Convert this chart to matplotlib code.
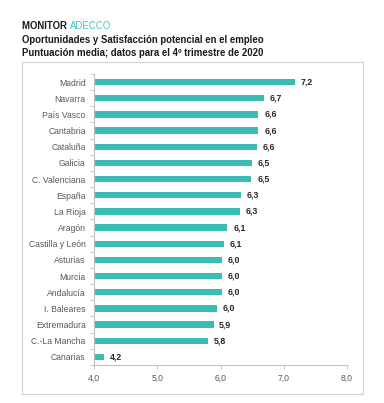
import matplotlib.pyplot as plt
from matplotlib.patches import Rectangle

plt.rcParams['font.family'] = ['Liberation Sans', 'DejaVu Sans']

# Datos: puntuación media por comunidad (4º trimestre 2020)
regiones = ['Madrid', 'Navarra', 'País Vasco', 'Cantabria', 'Cataluña', 'Galicia',
            'C. Valenciana', 'España', 'La Rioja', 'Aragón', 'Castilla y León',
            'Asturias', 'Murcia', 'Andalucía', 'I. Baleares', 'Extremadura',
            'C.-La Mancha', 'Canarias']
valores = [7.17, 6.69, 6.60, 6.60, 6.57, 6.50, 6.49, 6.33, 6.31, 6.11, 6.05,
           6.03, 6.03, 6.02, 5.94, 5.89, 5.81, 4.16]
etiquetas = ['7,2', '6,7', '6,6', '6,6', '6,6', '6,5', '6,5', '6,3', '6,3', '6,1',
             '6,1', '6,0', '6,0', '6,0', '6,0', '5,9', '5,8', '4,2']
ticks_x = [4, 5, 6, 7, 8]

teal = '#37bdb1'
gris = '#bfbfbf'

fig = plt.figure(figsize=(3.84, 4.03), dpi=100)

# Marco alrededor del gráfico
fig.patches.append(Rectangle((22 / 384, 1 - 394 / 403), 341 / 384, 332 / 403,
                             transform=fig.transFigure, fill=False,
                             edgecolor='#d0d0d0', linewidth=0.8))

# Títulos
t1 = fig.text(22 / 384, 1 - 26 / 403, 'MONITOR ', fontsize=6.9, fontweight='bold',
              va='center', ha='left', color='#1a1a1a')
fig.add_artist(plt.Annotation('ADECCO', xy=(1, 0), xycoords=t1, va='bottom',
                              ha='left', fontsize=6.9, color='#3cc4c0'))
fig.text(22 / 384, 1 - 40 / 403, 'Oportunidades y Satisfacción potencial en el empleo',
         fontsize=6.9, fontweight='bold', va='center', ha='left', color='#1a1a1a')
fig.text(22 / 384, 1 - 53 / 403, 'Puntuación media; datos para el 4º trimestre de 2020',
         fontsize=6.9, fontweight='bold', va='center', ha='left', color='#1a1a1a')

ax = fig.add_axes([94 / 384, 1 - 365 / 403, 253 / 384, 291 / 403])
pos = list(range(len(regiones)))
ax.barh(pos, [v - 4 for v in valores], left=4, height=0.4, color=teal)
for p, v, e in zip(pos, valores, etiquetas):
    ax.text(v + 0.09, p, e, fontsize=6.3, fontweight='bold', va='center', ha='left',
            color='#262626')

ax.set_xlim(4, 8)
ax.set_ylim(len(regiones) - 0.5, -0.5)
ax.set_xticks(ticks_x)
ax.set_xticklabels([f'{t},0' for t in ticks_x], fontsize=6.2, color='#595959')
ax.set_yticks(pos)
ax.set_yticklabels(regiones, fontsize=6.2, color='#595959')
ax.set_yticks([p - 0.5 for p in pos] + [len(regiones) - 0.5], minor=True)
ax.tick_params(axis='y', which='major', length=0, pad=6)
ax.tick_params(axis='y', which='minor', length=3, color=gris, width=0.6)
ax.tick_params(axis='x', length=3, color=gris, width=0.6, pad=3)
for s in ['top', 'right']:
    ax.spines[s].set_visible(False)
for s in ['left', 'bottom']:
    ax.spines[s].set_color(gris)
    ax.spines[s].set_linewidth(0.8)

fig.savefig('out.png', dpi=100)
